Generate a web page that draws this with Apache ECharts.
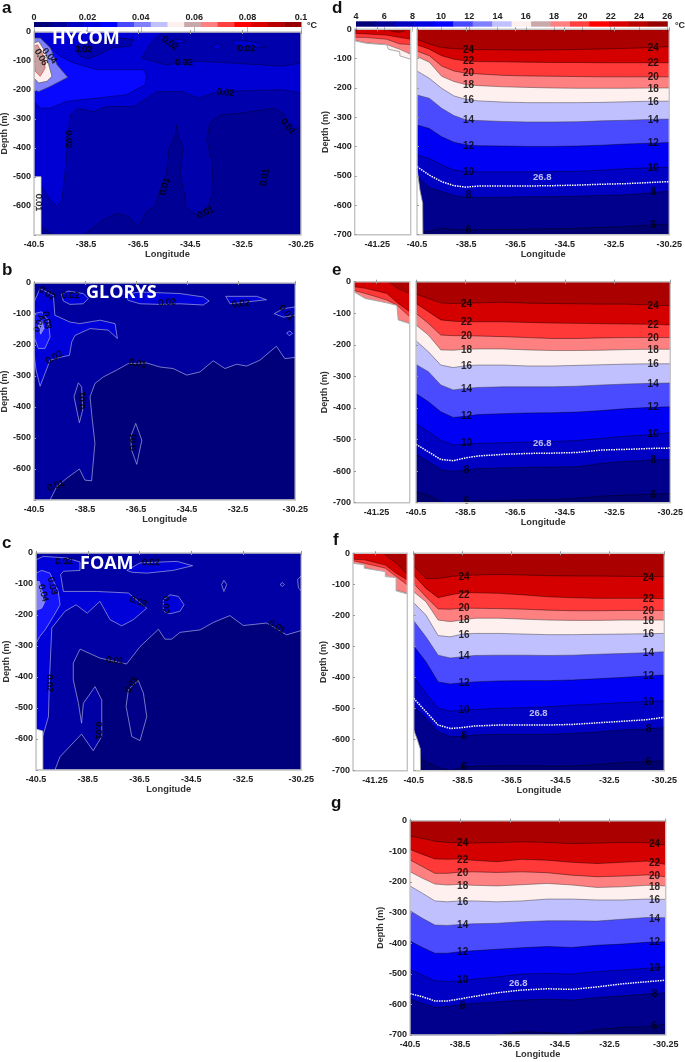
<!DOCTYPE html>
<html><head><meta charset="utf-8">
<style>html,body{margin:0;padding:0;background:#fff}#c{width:685px;height:1062px}</style>
<script src="https://cdn.jsdelivr.net/npm/echarts@6/dist/echarts.min.js"></script>
</head><body><div id="c"></div>
<script>
// ---- tick labels and colour scales ----
const lonTicks = [-40.5,-38.5,-36.5,-34.5,-32.5,-30.25];
const insetTicks = [-41.25];
const depthTicksShort = [0,-100,-200,-300,-400,-500,-600];
const depthTicksFull = [0,-100,-200,-300,-400,-500,-600,-700];
const errorBarTicks = [0,0.02,0.04,0.06,0.08,0.1];
const tempBarTicks = [4,6,8,10,12,14,16,18,20,22,24,26];
const barColors = ['#000078','#000098','#0000c0','#0000e0','#0000ff','#4848ff','#8080ff','#c0c0ff','#fff0f0','#c8a8a8','#ff8080','#ff4040','#ff0000','#d80000','#b80000','#980000'];
const levels = [6,8,10,12,14,16,18,20,22,24];
const levelColors = ['#00008c','#0000c4','#0000f5','#4a4aff','#c0c0ff','#fff0f0','#ff8080','#ff3838','#d40000','#ab0000'];

// ---- isotherm depths (m) along the section ----
const lons = [-40.5,-40,-39.5,-39,-38.5,-38,-37,-36,-35,-34,-33,-32,-31,-30.25];
const dIso = {
 6:[690,688,678,682,684,683,682,681,680,678,675,672,667,664],
 8:[502,539,553,567,572,573,572,571,570,569,566,564,557,552],
 10:[428,440,462,480,485,486,486,486,485,484,480,475,472,470],
 12:[326,338,366,385,394,397,398,399,399,398,395,391,388,386],
 14:[224,235,269,294,309,311,314,316,316,315,312,310,307,306],
 16:[142,167,201,227,239,244,248,250,250,250,249,247,245,245],
 18:[93,112,160,178,189,192,196,198,200,201,201,201,200,200],
 20:[74,90,125,142,150,152,157,159,160,161,162,162,162,162],
 22:[53,68,90,102,108,110,111,112,113,113,114,114,114,114],
 24:[34,50,62,66,68,69,70,71,70,69,67,65,62,59]};
const dSigma = [468,497,519,533,538,534,534,534,533,531,528,526,522,519];
const eIso = {
 6:[665,676,697,708,697,694,693,691,690,686,679,676,673,671],
 8:[546,570,595,601,596,592,590,588,587,586,575,569,565,563],
 10:[449,475,502,517,514,512,510,508,506,503,496,489,484,478],
 12:[354,380,412,430,426,421,418,416,415,413,408,402,398,396],
 14:[262,285,327,343,338,335,333,333,333,331,327,324,322,321],
 16:[187,222,264,272,266,264,264,267,267,265,263,261,260,260],
 18:[137,169,216,217,214,213,213,216,218,218,217,215,214,214],
 20:[100,132,169,171,171,172,174,177,180,180,178,177,177,177],
 22:[69,95,121,125,127,127,127,129,131,132,133,134,135,137],
 24:[39,53,67,69,68,67,65,68,69,70,71,71,74,76]};
const eSigma = [515,539,563,567,558,552,547,544,543,541,533,531,528,527];
const fIso = {
 6:[650,671,690,699,688,686,684,684,685,685,680,674,671,668],
 8:[494,532,575,591,589,585,583,583,583,580,575,569,566,561],
 10:[397,451,499,508,505,503,499,497,494,489,485,481,477,475],
 12:[298,349,414,421,417,414,411,410,410,408,404,400,395,392],
 14:[217,269,328,337,333,329,328,328,329,328,325,323,320,317],
 16:[159,199,265,269,260,258,258,260,262,262,261,260,259,258],
 18:[124,156,215,220,215,209,209,212,215,216,216,215,215,215],
 20:[97,140,179,180,177,177,178,180,183,185,185,184,184,184],
 22:[70,113,143,134,127,127,129,134,140,143,145,145,145,146],
 24:[41,81,81,75,71,70,68,70,72,73,73,74,75,75]};
const fSigma = [467,510,553,564,561,556,553,553,553,551,546,541,536,528];
const gIso = {
 6:[712,712,712,712,712,710,701,689,692,698,682,675,673,664],
 8:[583,597,610,607,602,597,592,586,583,586,578,572,566,562],
 10:[486,504,523,525,523,518,510,501,499,501,493,488,482,477],
 12:[393,414,433,433,428,425,420,415,411,414,407,403,397,395],
 14:[294,319,341,342,339,337,335,330,327,327,328,322,316,317],
 16:[213,237,262,265,262,262,265,262,256,256,259,259,256,257],
 18:[167,188,207,210,208,211,213,209,205,210,218,216,211,213],
 20:[128,150,172,172,168,167,169,167,170,178,183,181,177,183],
 22:[94,110,125,126,125,129,134,126,129,136,140,136,132,143],
 24:[50,58,67,71,72,73,71,69,71,75,73,71,72,79]};
const gSigma = [565,575,589,589,582,575,562,553,549,551,543,533,526,521];

// ---- shelf insets: [longitude, depth] ----
const dShelf = {bottom:[[-41.76,39],[-41.71,41],[-41.49,48],[-41.04,53],[-41,68],[-40.75,76],[-40.74,91],[-40.5,102]],
 16:[[-41.76,140],[-40.5,140]],
 18:[[-41.76,38],[-41.49,46],[-41.04,52],[-40.75,68],[-40.5,85]],
 20:[[-41.76,27],[-41.49,28],[-41.04,34],[-40.75,50],[-40.5,52]],
 22:[[-41.76,14],[-41.49,16],[-41.04,20],[-40.75,28],[-40.5,34]],
 24:[[-41.04,0],[-40.9,8],[-40.75,10],[-40.62,4],[-40.58,0]]};
const eShelf = {bottom:[[-41.76,32],[-41.51,53],[-41.02,67],[-40.79,75],[-40.76,121],[-40.5,133]],
 16:[[-41.76,160],[-40.5,160]],
 18:[[-41.76,32],[-41.51,53],[-41.02,69],[-40.76,121],[-40.5,132]],
 20:[[-41.76,28],[-41.51,37],[-41.02,58],[-40.79,74],[-40.5,111]],
 22:[[-41.76,16],[-41.51,21],[-41.02,37],[-40.76,69],[-40.5,95]],
 24:[[-40.98,0],[-40.76,22],[-40.5,37]]};
const fShelf = {bottom:[[-41.76,32],[-41.5,37],[-41.5,48],[-41.01,59],[-41.01,75],[-40.76,78],[-40.76,121],[-40.5,131]],
 16:[[-41.76,160],[-40.5,160]],
 18:[[-41.76,32],[-41.5,45],[-41.01,64],[-40.76,118],[-40.5,129]],
 20:[[-41.76,24],[-41.5,32],[-41.01,48],[-40.76,75],[-40.5,102]],
 22:[[-41.76,19],[-41.5,21],[-41.01,38],[-40.76,64],[-40.5,86]],
 24:[[-41.05,0],[-40.76,32],[-40.5,68]]};
// sea floor west edge of the main sections
const dFloor = [[-40.5,474],[-40.38,548],[-40.27,593],[-40.26,700]];
const eFloor = [];
const fFloor = [[-40.5,569],[-40.35,600],[-40.23,630],[-40.22,700]];

// ---- isotherm labels: lon column, depths, values ----
const isoText = ['24','22','20','18','16','14','12','10','8','6'];
const dLabelA = [73,110,149,191,241,311,398,488,564,686], dLabelB = [65,117,165,205,249,311,390,474,557,667];
const eLabelA = [72,127,173,216,267,340,426,512,597,695], eLabelB = [77,137,180,216,262,325,399,483,567,676];
const fLabelA = [77,135,178,215,263,333,419,505,589,690], fLabelB = [79,147,187,218,261,322,397,481,566,673];
const gLabelA = [74,130,173,213,265,342,431,521,607], gLabelB = [78,139,182,217,260,321,398,483,566,671];

// ---- error panels: contour regions, [longitude, depth] ----
const domain = [[-40.5,0],[-30.25,0],[-30.25,700],[-40.5,700]];
const aBand = [[-39.87,55],[-39.49,84],[-38.98,107],[-38.09,130],[-37.19,130],[-36.3,130],[-36.17,153],[-36.24,182],[-36.94,216],[-38.09,228],[-39.24,239],[-39.87,262],[-40.26,262],[-40.5,239],[-40.5,21]];
const aLow = [[-39.17,338],[-39.11,286],[-38.79,263],[-38.22,275],[-37.7,257],[-36.68,257],[-36.17,229],[-35.79,206],[-34.83,205],[-34.19,228],[-33.43,205],[-31,199],[-30.25,210],[-30.25,700],[-40.5,700],[-40.5,493],[-39.87,579],[-39.62,602],[-39.43,579],[-39.3,476]];
const aTopW = [[-38.85,67],[-38.73,84],[-38.42,92],[-37.99,78],[-37.51,55],[-36.81,49],[-36.68,26],[-37.19,21],[-38.22,26],[-38.79,44]];
const aTopE = [[-36.36,90],[-36.11,51],[-35.79,16],[-35.53,0],[-30.25,0],[-30.25,107],[-31,118],[-32.92,107],[-34.19,101],[-35.47,113]];
const aDot1 = [[-35.22,30],[-34.9,24],[-34.64,32],[-34.96,39]];
const aDot2 = [[-33.68,51],[-33.49,39],[-33.26,48],[-33.49,62]];
const aDot3 = [[-32.92,33],[-32.6,28],[-31.96,37],[-31.58,53],[-32.34,51],[-32.79,45]];
const aDeep = [[-38.6,700],[-37.83,648],[-37.32,625],[-36.87,637],[-36.49,671],[-36.17,619],[-35.85,602],[-35.66,545],[-35.41,487],[-35.34,407],[-35.09,361],[-35.02,321],[-34.96,361],[-34.77,401],[-34.9,487],[-34.7,568],[-34.7,602],[-34.26,631],[-33.81,602],[-33.62,545],[-33.68,441],[-33.87,372],[-33.75,315],[-33.36,286],[-32.6,280],[-31.32,263],[-30.94,280],[-30.56,344],[-30.25,324],[-30.25,700]];
const aDeepW = [[-40.23,671],[-39.75,700],[-40.23,700]];
const aLav = [[-40.5,21],[-40.26,21],[-39.87,55],[-39.62,113],[-39.21,156],[-39.87,187],[-40.32,205],[-40.5,199]];
const aPale = [[-40.5,38],[-40.32,32],[-40.07,67],[-39.81,153],[-40,170],[-40.32,176],[-40.5,159]];
const aRose = [[-40.5,49],[-40.36,44],[-40.13,84],[-40.07,124],[-40.26,153],[-40.45,136],[-40.5,101]];
const aFloor = [[-40.5,499],[-40.23,499],[-40.23,700],[-40.5,700]];

const bDeep = [[-39.87,700],[-39.61,657],[-39.22,630],[-38.72,600],[-38.5,636],[-38.24,638],[-38.11,517],[-38.24,421],[-38.3,367],[-38.11,324],[-37.78,303],[-37.26,281],[-36.8,260],[-36.08,258],[-35.56,271],[-35.04,276],[-34.51,297],[-33.99,287],[-33.47,251],[-33.01,276],[-32.55,262],[-32.16,268],[-31.64,249],[-30.99,204],[-30.66,244],[-30.25,240],[-30.25,700]];
const bLens1 = [[-38.76,322],[-38.63,335],[-38.59,410],[-38.72,451],[-38.93,367]];
const bLens2 = [[-36.51,453],[-36.27,507],[-36.47,585],[-36.67,539],[-36.71,496]];
const bWest = [[-40.5,61],[-40.26,18],[-39.74,40],[-39.68,104],[-39.09,126],[-38.7,131],[-37.91,120],[-37.32,131],[-37.23,179],[-37.59,152],[-38.3,147],[-38.89,169],[-39.02,190],[-39.11,233],[-39.48,240],[-39.87,249],[-40.07,292],[-40.26,333],[-40.42,281],[-40.5,228]];
const bCore = [[-40.5,99],[-40.2,93],[-39.94,120],[-39.87,174],[-40.07,211],[-40.33,211],[-40.5,174]];
const bPeak = [[-40.33,136],[-40.2,120],[-40.11,147],[-40.24,165]];
const bTop1 = [[-39.42,36],[-39.16,26],[-38.57,34],[-38.37,50],[-38.57,67],[-39.09,69],[-39.35,58]];
const bTop2 = [[-36.93,36],[-36.34,29],[-34.78,34],[-33.86,45],[-33.63,58],[-33.86,71],[-34.78,67],[-35.56,69],[-36.34,67],[-36.8,56]];
const bTop3 = [[-32.98,43],[-31.77,43],[-31.38,54],[-32.16,61],[-32.81,67]];
const bEast = [[-30.25,77],[-30.72,83],[-31.08,99],[-30.72,110],[-30.25,104]];
const bDot = [[-30.59,161],[-30.46,155],[-30.36,163],[-30.49,170]];

const cDeep = [[-39.77,700],[-39.57,657],[-38.74,584],[-38.29,638],[-37.96,592],[-37.96,474],[-38.22,431],[-38.67,485],[-38.74,549],[-38.86,485],[-39.06,409],[-39.06,355],[-38.8,310],[-38.03,339],[-37,358],[-36.48,302],[-35.77,246],[-35.52,278],[-35.26,278],[-34.94,256],[-34.16,248],[-33.65,224],[-33.01,202],[-32.49,234],[-31.59,226],[-30.82,264],[-30.25,250],[-30.25,700]];
const cLens = [[-36.55,411],[-36.35,452],[-36.22,528],[-36.48,605],[-36.8,592],[-37.02,495],[-36.93,441]];
const cWest = [[-40.5,22],[-40.22,11],[-39.32,16],[-38.8,29],[-38.8,56],[-39.44,59],[-39.55,70],[-39.44,124],[-38.16,124],[-36.93,129],[-36.22,178],[-36.74,215],[-37.19,235],[-37.64,215],[-38.03,156],[-38.52,194],[-38.95,167],[-39.38,188],[-39.89,242],[-39.98,409],[-40.02,528],[-40.24,592],[-40.24,700],[-40.5,700]];
const cTop = [[-36.99,56],[-36.48,32],[-35.06,27],[-34.45,41],[-35.2,56],[-36.22,65],[-36.8,62]];
const cMid = [[-35.58,151],[-35.32,135],[-35,140],[-34.78,167],[-34.94,188],[-35.32,196],[-35.58,188]];
const cCore = [[-40.5,65],[-40.28,56],[-39.96,65],[-39.64,124],[-39.57,167],[-39.83,205],[-40.15,248],[-40.35,269],[-40.5,291]];
const cPeak = [[-40.5,92],[-40.37,92],[-40.15,156],[-40.28,178],[-40.5,185]];
const cRing1 = [[-33.33,102],[-33.24,88],[-33.13,102],[-33.24,124]];
const cRing2 = [[-31.07,102],[-30.98,95],[-30.91,102],[-30.98,108]];
const cRing3 = [[-30.25,73],[-30.39,86],[-30.36,113],[-30.25,122]];
const cFloor = [[-40.5,568],[-40.24,574],[-40.24,700],[-40.5,700]];

// contour labels: [lon, depth, text, angle]
const aText = [[-38.6,59,'0.02',0],[-35.28,39,'0.02',-35],[-34.74,106,'0.02',0],[-33.15,209,'0.02',-5],[-32.34,56,'0.02',0],[-39.17,370,'0.02',-90],[-40.32,588,'0.01',-90],[-35.47,533,'0.01',75],[-33.91,623,'0.01',25],[-31.64,501,'0.01',80],[-30.75,326,'0.01',-50],[-39.91,83,'0.04',-50],[-40.23,87,'0.06',-60]];
const bText = [[-40,34,'0.02',-35],[-39.07,40,'0.02',0],[-35.27,63,'0.02',5],[-32.39,67,'0.02',5],[-30.6,96,'0.01',-50],[-40,120,'0.03',-80],[-40.29,131,'0.04',70],[-39.71,240,'0.02',30],[-36.44,260,'0.01',-10],[-38.61,378,'0.01',90],[-36.6,512,'0.01',90],[-39.64,654,'0.01',20]];
const cText = [[-39.42,28,'0.02',0],[-36.07,32,'0.02',0],[-39.87,106,'0.03',-75],[-40.22,129,'0.04',-75],[-36.55,158,'0.02',-20],[-35.49,167,'0.02',-90],[-31.2,239,'0.01',-30],[-37.45,347,'0.01',-5],[-36.8,425,'0.01',60],[-39.96,420,'0.02',-90],[-38.07,573,'0.01',-90]];

// ---- chart construction ----
const FONT = '"Liberation Sans", Arial, sans-serif';
const FRAME = '#c4c4c4';
const grids = [], xAxes = [], yAxes = [], series = [];
let order = 2;

function panel(box, xMin, xMax, xt, yt, o) {
  o = o || {};
  const g = grids.length;
  grids.push({show:true, z:2000, left:box[0], top:box[1], width:box[2]-box[0], height:box[3]-box[1],
    outerBoundsMode:'none',
    backgroundColor:'transparent', borderColor:FRAME, borderWidth:1.4, containLabel:false});
  const common = {gridIndex:g, type:'value', min:xMin, max:xMax, z:2001, splitLine:{show:false}, axisLine:{show:false}};
  xAxes.push(Object.assign({}, common, {position:'bottom',
    name:o.xName||'', nameLocation:'middle', nameGap:15,
    nameTextStyle:{fontFamily:FONT, fontSize:9.3, fontWeight:'bold', color:'#333'},
    axisTick:{inside:true, length:2, lineStyle:{color:'#999'}, customValues:xt},
    axisLabel:{show:xt.length>0, customValues:xt, margin:5, fontFamily:FONT, fontSize:9, fontWeight:'bold', color:'#222', hideOverlap:false}}));
  const xi = xAxes.length-1;
  xAxes.push(Object.assign({}, common, {position:'top',
    axisTick:{inside:true, length:2, lineStyle:{color:'#999'}, customValues:xt},
    axisLabel:{show:false}}));
  yAxes.push({gridIndex:g, type:'value', min:-700, max:0, z:2001, splitLine:{show:false}, axisLine:{show:false},
    name:o.yName||'', nameLocation:'middle', nameGap:o.yGap||23, nameRotate:90,
    nameTextStyle:{fontFamily:FONT, fontSize:9, fontWeight:'bold', color:'#333'},
    axisTick:{inside:true, length:2, lineStyle:{color:'#999'}, customValues:depthTicksFull},
    axisLabel:{show:yt.length>0, customValues:yt, margin:3, fontFamily:FONT, fontSize:9, fontWeight:'bold', color:'#222', hideOverlap:false}});
  return {x:xi, y:yAxes.length-1};
}

function ring(ax, pts, fill, stroke, w) {
  if (!pts.length) return;
  series.push({type:'custom', z:order++, xAxisIndex:ax.x, yAxisIndex:ax.y, silent:true, animation:false, clip:true,
    data:pts.map(p=>[p[0],-p[1]]),
    renderItem:(params, api)=> params.dataIndex!==0 ? null : ({type:'polygon',
      shape:{points:pts.map(p=>api.coord([p[0],-p[1]]))},
      style:{fill:fill||'none', stroke:stroke||'none', lineWidth:w||0.7}})});
}

function area(ax, pts, fill, stroke, origin, w) {
  series.push({type:'line', z:order++, xAxisIndex:ax.x, yAxisIndex:ax.y, silent:true, animation:false, showSymbol:false, clip:true,
    data:pts.map(p=>[p[0],-p[1]]),
    lineStyle:{color:stroke||fill, width:w===undefined?0.7:w},
    areaStyle:{color:fill, opacity:1, origin:origin||'end'}});
}

function textMarks(ax, items, style) {
  series.push({type:'scatter', z:1500, xAxisIndex:ax.x, yAxisIndex:ax.y, silent:true, animation:false, symbolSize:1,
    itemStyle:{color:'transparent'},
    data:items.map(t=>({value:[t[0],-t[1]], label:{show:true, position:'inside', formatter:t[2], rotate:t[3]||0,
      fontFamily:FONT, fontSize:style.size, fontWeight:style.weight||'normal', color:style.color||'#000',
      textBorderColor:style.halo||'transparent', textBorderWidth:style.halo?0.5:0}}))});
}

function colorbar(box, min, max, ticks) {
  const g = grids.length;
  grids.push({left:box[0], top:box[1], width:box[2]-box[0], height:box[3]-box[1], outerBoundsMode:'none'});
  xAxes.push({gridIndex:g, type:'value', position:'top', min, max, splitLine:{show:false}, axisLine:{show:false}, z:2001,
    axisTick:{inside:true, length:5, lineStyle:{color:'rgba(0,0,0,0.25)'}, customValues:ticks},
    axisLabel:{customValues:ticks, margin:0, fontFamily:FONT, fontSize:9, fontWeight:'bold', color:'#222', hideOverlap:false}});
  yAxes.push({gridIndex:g, type:'value', min:0, max:1, show:false});
  const step = (max-min)/barColors.length;
  series.push({type:'custom', xAxisIndex:xAxes.length-1, yAxisIndex:yAxes.length-1, silent:true, animation:false,
    data:barColors.map((c,i)=>[min+i*step, min+(i+1)*step]),
    renderItem:(params, api)=>{
      const a = api.coord([api.value(0),0]), b = api.coord([api.value(1),1]);
      return {type:'rect', shape:{x:a[0], y:b[1], width:b[0]-a[0]+0.5, height:a[1]-b[1]}, style:{fill:barColors[params.dataIndex]}};
    }});
}

const lineFor = l => (l===14||l===16||l===18) ? 'rgba(60,60,60,0.8)' : 'rgba(0,0,0,0.7)';

function tempSection(mainBox, insetBox, iso, sigma, floor, shelf, labelA, labelB, lonA, lonB, sigmaLab, withY) {
  let ax;
  if (insetBox) {
    const ins = panel(insetBox, -41.76, -40.5, insetTicks, depthTicksFull, {yName:'Depth (m)', yGap:withY});
    [16,18,20,22,24].forEach(l=>area(ins, shelf[l], levelColors[levels.indexOf(l)], lineFor(l), 'end', l===16?0:0.5));
    area(ins, shelf.bottom, '#ffffff', '#aaa', 'start', 1);
    ax = panel(mainBox, -40.5, -30.25, lonTicks, [], {xName:'Longitude'});
  } else {
    ax = panel(mainBox, -40.5, -30.25, lonTicks, depthTicksFull, {xName:'Longitude', yName:'Depth (m)', yGap:withY});
  }
  area(ax, [[-40.5,700],[-30.25,700]], '#000070', '#000070', 'end', 0);
  levels.forEach((l,i)=>{
    area(ax, lons.map((x,k)=>[x, iso[l][k]]), levelColors[i], lineFor(l), 'end', 0.6);
  });
  series.push({type:'line', z:order++, xAxisIndex:ax.x, yAxisIndex:ax.y, silent:true, animation:false, showSymbol:false, clip:true,
    data:lons.map((x,k)=>[x,-sigma[k]]), lineStyle:{color:'#fff', width:1.5, type:[1.5,1]}});
  if (floor.length) area(ax, floor, '#ffffff', '#999', 'start', 0.8);
  const labs = [];
  labelA.forEach((d,i)=>labs.push([lonA, d, isoText[i]]));
  labelB.forEach((d,i)=>labs.push([lonB, d, isoText[i]]));
  textMarks(ax, labs, {size:10, weight:'bold', color:'#000'});
  textMarks(ax, [[sigmaLab[0], sigmaLab[1], '26.8']], {size:9.5, weight:'bold', color:'#e8e8ff'});
}

// panel a
colorbar([34,22,301,27], 0, 0.1, errorBarTicks);
{
  const ax = panel([34,32,301,235], -40.5, -30.25, lonTicks, depthTicksShort, {xName:'Longitude', yName:'Depth (m)', yGap:22});
  const L='rgba(0,0,0,0.5)';
  ring(ax, domain, '#0000d4');
  ring(ax, aBand, '#0808ff', L);
  ring(ax, aLow, '#0000ac', L);
  ring(ax, aDeep, '#000094', L);
  ring(ax, aDeepW, '#000094', L);
  ring(ax, aTopW, '#0000ac', L);
  ring(ax, aTopE, '#0000ac', L);
  ring(ax, aDot1, '#0000d4', L);
  ring(ax, aDot2, '#0000d4', L);
  ring(ax, aDot3, '#0000d4', L);
  ring(ax, aLav, '#8080ff', '#555');
  ring(ax, aPale, '#fff0f0', '#555');
  ring(ax, aRose, '#c8a0a0', '#e04040');
  ring(ax, aFloor, '#ffffff', FRAME);
  textMarks(ax, aText, {size:9, halo:'rgba(0,0,0,0.7)'});
}
// panel b
{
  const ax = panel([34,283,295.3,500], -40.5, -30.25, lonTicks, depthTicksShort, {xName:'Longitude', yName:'Depth (m)', yGap:20.5});
  const L='#a8a8e0';
  ring(ax, domain, '#00009e');
  ring(ax, bDeep, '#00007a', L);
  ring(ax, bLens1, '#000086', L);
  ring(ax, bLens2, '#000086', L);
  ring(ax, bWest, '#0000d8', L);
  ring(ax, bCore, '#1414ff', L);
  ring(ax, bPeak, '#8080ff', L);
  ring(ax, bTop1, '#0000d8', L);
  ring(ax, bTop2, '#0000d8', L);
  ring(ax, bTop3, '#0000d8', L);
  ring(ax, bEast, '#0000c4', L);
  ring(ax, bDot, '#0000d8', L);
  textMarks(ax, bText, {size:9, halo:'rgba(0,0,0,0.7)'});
}
// panel c
{
  const ax = panel([36,553,301.3,770], -40.5, -30.25, lonTicks, depthTicksShort, {xName:'Longitude', yName:'Depth (m)', yGap:23});
  const L='#a8a8e0';
  ring(ax, domain, '#0000a4');
  ring(ax, cDeep, '#00007c', L);
  ring(ax, cLens, '#000088', L);
  ring(ax, cWest, '#0000d8', L);
  ring(ax, cTop, '#0000d8', L);
  ring(ax, cMid, '#0000d8', L);
  ring(ax, cCore, '#1414ff', L);
  ring(ax, cPeak, '#8080ff', L);
  ring(ax, cRing1, null, L);
  ring(ax, cRing2, null, L);
  ring(ax, cRing3, null, L);
  ring(ax, cFloor, '#ffffff', FRAME);
  textMarks(ax, cText, {size:9, halo:'rgba(0,0,0,0.7)'});
}
// temperature panels
colorbar([356,21.3,667.3,26.7], 4, 26, tempBarTicks);
tempSection([417,29.3,669.3,234.7],[354.7,29.3,410.7,234.7], dIso, dSigma, dFloor, dShelf, dLabelA, dLabelB, -38.41, -30.9, [-35.41,505], 19);
tempSection([416,281.7,670.3,502.7],[354,281.7,409.7,502.7], eIso, eSigma, eFloor, eShelf, eLabelA, eLabelB, -38.46, -30.94, [-35.41,513], 18);
tempSection([413.7,553.3,664.3,770.7],[353,553.3,407.3,770.7], fIso, fSigma, fFloor, fShelf, fLabelA, fLabelB, -38.44, -30.9, [-35.4,514], 21);
tempSection([410,820.7,665.7,1035], null, gIso, gSigma, [], null, gLabelA, gLabelB, -38.39, -30.7, [-36.16,532], 21);

const letter = (t,x,y)=>({type:'text', left:x, top:y, z:3000, style:{text:t, font:'bold 17px "Liberation Sans", Arial, sans-serif', fill:'#111'}});
const model = (t,x,y)=>({type:'text', left:x, top:y, z:3000, style:{text:t, font:'bold 18px "Open Sans", sans-serif', fill:'#fff'}});
const unit = (x,y)=>({type:'text', left:x, top:y, z:3000, style:{text:'°C', font:'bold 9px "Liberation Sans", Arial, sans-serif', fill:'#222'}});

const chart = echarts.init(document.getElementById('c'), null, {renderer:'canvas', width:685, height:1062});
chart.setOption({animation:false, backgroundColor:'#fff', grid:grids, xAxis:xAxes, yAxis:yAxes, series,
  graphic:[letter('a',2,0),letter('b',2,262),letter('c',2,535),letter('d',332,0),letter('e',332,262),letter('f',333,532),letter('g',331,795),
    model('HYCOM',52,30),model('GLORYS',86,284),model('FOAM',80,555),unit(307,21),unit(675,21)]});
</script></body></html>
